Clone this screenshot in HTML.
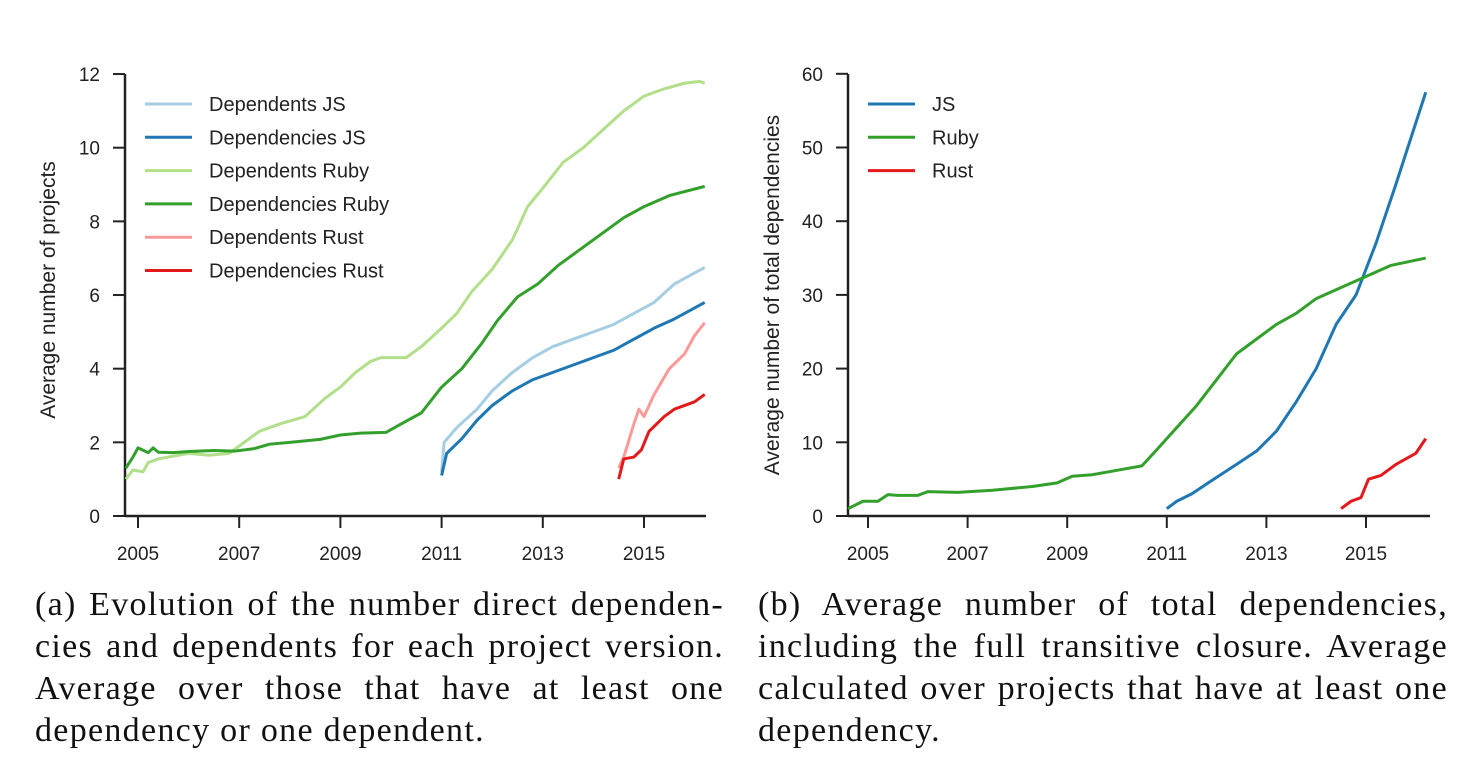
<!DOCTYPE html>
<html><head><meta charset="utf-8"><style>
body{margin:0;width:1479px;height:772px;background:#fff;overflow:hidden;position:relative}
.cap{position:absolute;top:584px;font-family:"Liberation Serif",serif;font-size:34px;letter-spacing:1.3px;line-height:42px;color:#111}
.cap div{text-align:justify;text-align-last:justify;white-space:nowrap}
.cap div.last{text-align-last:left}
svg text{font-family:"Liberation Sans",sans-serif;fill:#222}
</style></head><body>
<svg id="chart" width="1479" height="580" style="position:absolute;left:0;top:0"></svg>
<div class="cap" style="left:35px;width:689px"><div>(a) Evolution of the number direct dependen-</div><div>cies and dependents for each project version.</div><div>Average over those that have at least one</div><div class="last">dependency or one dependent.</div></div>
<div class="cap" style="left:758px;width:690px"><div>(b) Average number of total dependencies,</div><div>including the full transitive closure. Average</div><div>calculated over projects that have at least one</div><div class="last">dependency.</div></div>
<script>
const xTicks=[2005,2007,2009,2011,2013,2015];
const leftYTicks=[0,2,4,6,8,10,12];
const rightYTicks=[0,10,20,30,40,50,60];
const depJsX=[2011,2011.05,2011.3,2011.7,2012,2012.4,2012.8,2013.2,2013.6,2014,2014.4,2014.8,2015.2,2015.6,2016,2016.2];
const depJsY=[1.2,2.0,2.4,2.9,3.4,3.9,4.3,4.6,4.8,5.0,5.2,5.5,5.8,6.3,6.6,6.75];
const dcyJsX=[2011,2011.1,2011.4,2011.7,2012,2012.4,2012.8,2013.2,2013.6,2014,2014.4,2014.8,2015.2,2015.6,2016.2];
const dcyJsY=[1.1,1.7,2.1,2.6,3.0,3.4,3.7,3.9,4.1,4.3,4.5,4.8,5.1,5.35,5.8];
const depRbX=[2004.76,2004.9,2005.1,2005.2,2005.4,2005.6,2006,2006.4,2006.8,2007,2007.4,2007.8,2008.3,2008.7,2009,2009.3,2009.6,2009.8,2010.3,2010.6,2011,2011.3,2011.6,2012,2012.4,2012.7,2013,2013.4,2013.8,2014.2,2014.6,2015,2015.4,2015.8,2016.1,2016.2];
const depRbY=[1.0,1.25,1.2,1.45,1.55,1.6,1.7,1.65,1.7,1.9,2.3,2.5,2.7,3.2,3.5,3.9,4.2,4.3,4.3,4.6,5.1,5.5,6.1,6.7,7.5,8.4,8.9,9.6,10.0,10.5,11.0,11.4,11.6,11.75,11.8,11.75];
const dcyRbX=[2004.76,2004.9,2005.0,2005.2,2005.3,2005.4,2005.7,2006,2006.5,2006.9,2007.3,2007.6,2008,2008.6,2009,2009.4,2009.9,2010.2,2010.6,2011,2011.4,2011.8,2012.1,2012.5,2012.9,2013.3,2013.7,2014.2,2014.6,2015,2015.5,2016.2];
const dcyRbY=[1.3,1.6,1.85,1.72,1.85,1.73,1.72,1.75,1.78,1.76,1.83,1.95,2.0,2.08,2.2,2.25,2.27,2.5,2.8,3.5,4.0,4.7,5.3,5.95,6.3,6.8,7.2,7.7,8.1,8.4,8.7,8.95];
const depRsX=[2014.5,2014.6,2014.8,2014.9,2015,2015.2,2015.5,2015.8,2016,2016.2];
const depRsY=[1.3,1.6,2.5,2.9,2.7,3.3,4.0,4.4,4.9,5.25];
const dcyRsX=[2014.5,2014.6,2014.8,2014.95,2015.1,2015.4,2015.6,2016,2016.2];
const dcyRsY=[1.0,1.55,1.6,1.8,2.3,2.7,2.9,3.1,3.3];
const totRbX=[2004.6,2004.9,2005.2,2005.4,2005.6,2006,2006.2,2006.8,2007.5,2008.3,2008.8,2009.1,2009.5,2010,2010.5,2010.8,2011.2,2011.6,2012,2012.4,2012.8,2013.2,2013.6,2014,2014.5,2015,2015.5,2016.2];
const totRbY=[1,2,2,2.9,2.8,2.8,3.3,3.2,3.5,4,4.5,5.4,5.6,6.2,6.8,9,12,15,18.5,22,24,26,27.5,29.5,31,32.5,34,35];
const totJsX=[2011,2011.2,2011.5,2011.9,2012.4,2012.8,2013.2,2013.6,2014,2014.4,2014.8,2015.2,2015.6,2016.2];
const totJsY=[1,2,3,4.8,7,8.8,11.5,15.5,20,26,30,37,45,57.5];
const totRsX=[2014.5,2014.7,2014.9,2015.05,2015.3,2015.6,2016,2016.2];
const totRsY=[1,2,2.5,5,5.5,7,8.5,10.5];

const NS="http://www.w3.org/2000/svg";
const svg=document.getElementById('chart');
function mk(t,a,txt){const e=document.createElementNS(NS,t);for(const k in a)e.setAttribute(k,a[k]);if(txt!==undefined)e.textContent=txt;svg.appendChild(e);return e;}
function panel(o){
 const sx=v=>o.x0+(v-2005)*o.pxYear, sy=v=>516-v*o.pxUnit;
 let e=mk('line',{x1:o.ax,y1:74,x2:o.ax,y2:517,stroke:'#222','stroke-width':2.5});
 
 e=mk('line',{x1:o.ax,y1:516,x2:o.xEnd,y2:516,stroke:'#222','stroke-width':2.5});
 
 o.yt.forEach(v=>{mk('line',{x1:o.ax-12,y1:sy(v),x2:o.ax,y2:sy(v),stroke:'#222','stroke-width':2});
  e=mk('text',{x:o.ax-25,y:sy(v)+7,'text-anchor':'end','font-size':19},v);
  });
 xTicks.forEach(v=>{mk('line',{x1:sx(v),y1:516,x2:sx(v),y2:528,stroke:'#222','stroke-width':2});
  e=mk('text',{x:sx(v),y:560,'text-anchor':'middle','font-size':19},v);
  });
 e=mk('text',{x:0,y:0,'text-anchor':'middle','font-size':21,transform:`translate(${o.ylx},${o.yly}) rotate(-90)`},o.ylab);
 
 o.series.forEach((s,i)=>{
  e=mk('polyline',{points:s.x.map((v,j)=>sx(v)+','+sy(s.y[j])).join(' '),fill:'none',stroke:s.c,'stroke-width':3,'stroke-linejoin':'round'});
  
  const ly=104+i*33.3;
  mk('line',{x1:o.lx,y1:ly,x2:o.lx+47,y2:ly,stroke:s.c,'stroke-width':3});
  e=mk('text',{x:o.lx+64,y:ly+7,'font-size':20},s.n);
  
 });
}
panel({p:'left',x0:138,pxYear:50.6,pxUnit:36.83,ax:125,xEnd:706,yt:leftYTicks,ylab:'Average number of projects',ylx:55,yly:290,lx:145,
 series:[{n:'Dependents JS',c:'#a6cee3',x:depJsX,y:depJsY},{n:'Dependencies JS',c:'#1f78b4',x:dcyJsX,y:dcyJsY},
 {n:'Dependents Ruby',c:'#b2df8a',x:depRbX,y:depRbY},{n:'Dependencies Ruby',c:'#33a02c',x:dcyRbX,y:dcyRbY},
 {n:'Dependents Rust',c:'#fb9a99',x:depRsX,y:depRsY},{n:'Dependencies Rust',c:'#e31a1c',x:dcyRsX,y:dcyRsY}]});
panel({p:'right',x0:868,pxYear:49.8,pxUnit:7.37,ax:848,xEnd:1430,yt:rightYTicks,ylab:'Average number of total dependencies',ylx:779,yly:295,lx:868,
 series:[{n:'JS',c:'#1f78b4',x:totJsX,y:totJsY},{n:'Ruby',c:'#33a02c',x:totRbX,y:totRbY},{n:'Rust',c:'#e31a1c',x:totRsX,y:totRsY}]});
</script>
</body></html>
